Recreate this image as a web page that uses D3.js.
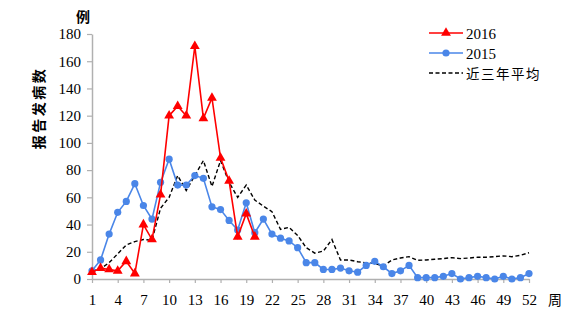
<!DOCTYPE html>
<html>
<head>
<meta charset="utf-8">
<script src="https://cdn.jsdelivr.net/npm/d3@7"></script>
<style>
  html, body { margin: 0; padding: 0; background: #fff; }
  svg { display: block; }
  .num { font-family: "Liberation Serif", "DejaVu Serif", serif; font-size: 15px; fill: #000; }
  .cjk { font-family: "Noto Sans CJK SC", sans-serif; fill: #000; }
</style>
</head>
<body>
<svg id="chart" width="572" height="328"></svg>
<script>
// Weekly reported cases
const weeks = d3.range(1, 53);
const xTickWeeks = [1, 4, 7, 10, 13, 16, 19, 22, 25, 28, 31, 34, 37, 40, 43, 46, 49, 52];
const yTicks = [0, 20, 40, 60, 80, 100, 120, 140, 160, 180];

const cases2016 = [5, 8, 7, 6, 13, 4, 40, 29, 62, 120, 127, 120, 171, 118, 133, 89, 72, 31, 48, 31];

const cases2015 = [6, 14, 33, 49, 57, 70, 54, 44, 71, 88, 69, 69, 76, 74, 53, 51, 43, 36, 56, 34,
                   44, 33, 30, 28, 23, 12, 12, 7, 7, 8, 6, 5, 10, 13, 9, 4, 6, 10, 1, 1,
                   1, 2, 4, 0, 1, 2, 1, 0, 2, 0, 1, 4];

const avg3yr = [6, 7.5, 12, 18.5, 25, 27.5, 29, 28.5, 52, 60, 76, 65, 76, 87, 68, 87, 71, 60, 69, 58,
                53.5, 49.5, 36.5, 38, 32, 23, 19, 20.5, 29, 14, 14, 12.7, 11.8, 11.5, 9.5, 14, 15.4, 16.4, 13.7, 14,
                14.5, 15, 15.7, 15, 15.4, 16, 16, 16.4, 17, 16.4, 17.4, 19.3];

const seriesNames = ["2016", "2015", "近三年平均"];
const yAxisTitle = "报告发病数";
const yUnit = "例";
const xUnit = "周";

const red = "#ff0000", blue = "#4a86e8", axisGrey = "#b0b0b0";

const svg = d3.select("#chart");

const x = d3.scaleLinear().domain([1, 52]).range([92, 529]);
const y = d3.scaleLinear().domain([0, 180]).range([279, 34]);

// Axes
const yAxis = svg.append("g")
  .attr("transform", `translate(${x(1)},0)`)
  .call(d3.axisLeft(y).tickValues(yTicks).tickSize(5).tickSizeOuter(0).tickPadding(6));
yAxis.select(".domain").attr("stroke", axisGrey).attr("stroke-width", 1.5);
yAxis.selectAll(".tick line").attr("stroke", axisGrey).attr("stroke-width", 1.2);
yAxis.selectAll(".tick text").attr("class", "num").attr("font-family", null).attr("font-size", null);

const xAxis = svg.append("g")
  .attr("transform", `translate(0,${y(0)})`)
  .call(d3.axisBottom(x).tickValues(xTickWeeks).tickSize(4).tickSizeOuter(0).tickPadding(11));
xAxis.select(".domain").attr("stroke", axisGrey).attr("stroke-width", 1.5);
xAxis.selectAll(".tick line").attr("stroke", axisGrey).attr("stroke-width", 1.2);
xAxis.selectAll(".tick text").attr("class", "num").attr("font-family", null).attr("font-size", null);

// Axis titles
svg.append("text").attr("class", "cjk").attr("x", 83).attr("y", 22)
  .attr("text-anchor", "middle").attr("font-size", 14).attr("font-weight", "bold").text(yUnit);
svg.append("text").attr("class", "cjk")
  .attr("transform", "translate(44,108) rotate(-90)")
  .attr("text-anchor", "middle").attr("font-size", 14).attr("font-weight", "bold")
  .attr("letter-spacing", "2.5px").text(yAxisTitle);
svg.append("text").attr("class", "cjk").attr("x", 555).attr("y", 305)
  .attr("text-anchor", "middle").attr("font-size", 14).text(xUnit);

const line = d3.line().x((d, i) => x(weeks[i])).y(d => y(d));

// Three-year average (dashed)
svg.append("path").datum(avg3yr)
  .attr("fill", "none").attr("stroke", "#000").attr("stroke-width", 1.4)
  .attr("stroke-dasharray", "4,2.5").attr("d", line);

// 2015
svg.append("path").datum(cases2015)
  .attr("fill", "none").attr("stroke", blue).attr("stroke-width", 1.6).attr("d", line);
svg.append("g").selectAll("circle").data(cases2015).join("circle")
  .attr("cx", (d, i) => x(weeks[i])).attr("cy", d => y(d)).attr("r", 3.6).attr("fill", blue);

// 2016
svg.append("path").datum(cases2016)
  .attr("fill", "none").attr("stroke", red).attr("stroke-width", 1.6).attr("d", line);
const tri = d3.symbol().type(d3.symbolTriangle).size(42);
svg.append("g").selectAll("path").data(cases2016).join("path")
  .attr("transform", (d, i) => `translate(${x(weeks[i])},${y(d)})`)
  .attr("d", tri).attr("fill", red);

// Legend
const legend = svg.append("g");
const items = [
  { name: seriesNames[0], color: red, marker: "tri", dash: null, ly: 33 },
  { name: seriesNames[1], color: blue, marker: "circle", dash: null, ly: 53 },
  { name: seriesNames[2], color: "#000", marker: null, dash: "4,2.5", ly: 73 }
];
items.forEach(it => {
  legend.append("line").attr("x1", 429).attr("x2", 463).attr("y1", it.ly).attr("y2", it.ly)
    .attr("stroke", it.color).attr("stroke-width", it.dash ? 1.4 : 1.6)
    .attr("stroke-dasharray", it.dash);
  if (it.marker === "tri") {
    legend.append("path").attr("transform", `translate(446,${it.ly})`).attr("d", tri).attr("fill", it.color);
  } else if (it.marker === "circle") {
    legend.append("circle").attr("cx", 446).attr("cy", it.ly).attr("r", 3.6).attr("fill", it.color);
  }
  const t = legend.append("text").attr("x", 466).attr("y", it.ly + 5.5).text(it.name);
  if (it.marker) t.attr("class", "num");
  else t.attr("class", "cjk").attr("font-size", 13.5).attr("letter-spacing", "1.5px");
});
</script>
</body>
</html>
